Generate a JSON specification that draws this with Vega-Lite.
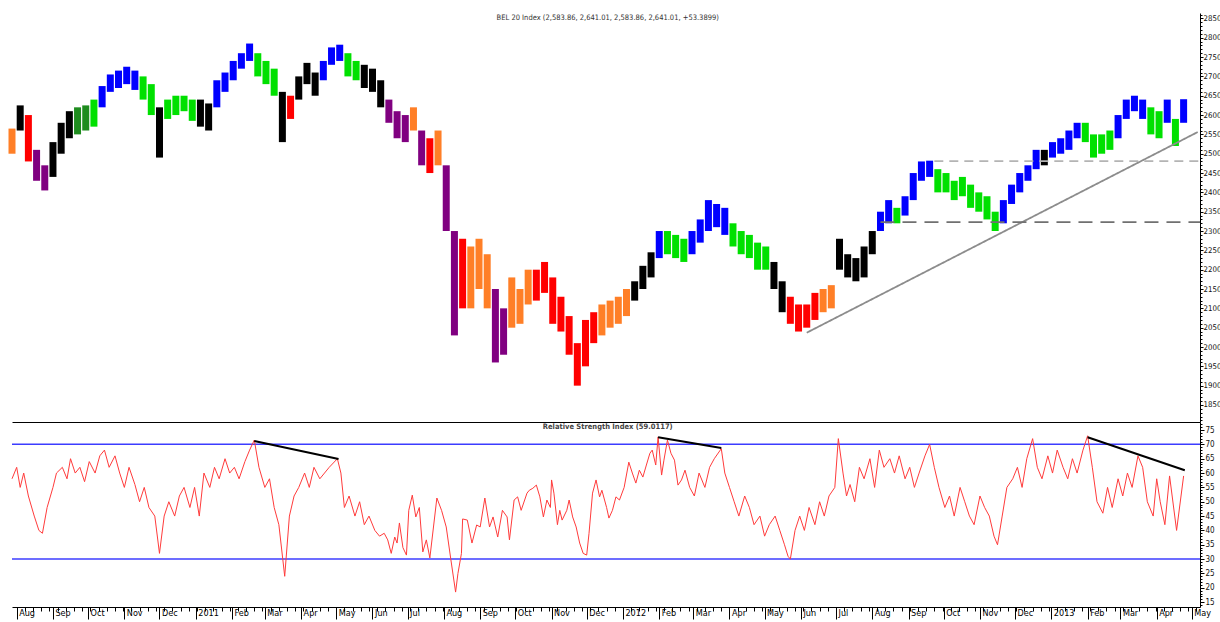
{
  "$schema": "https://vega.github.io/schema/vega-lite/v6.json",
  "autosize": {"type": "pad"},
  "padding": {"left": 8, "top": 13, "right": 0, "bottom": 0},
  "background": "white",
  "spacing": 0,
  "config": {
    "view": {"stroke": null},
    "font": "Liberation Sans Narrow, DejaVu Sans Condensed, Liberation Sans, sans-serif",
    "axis": {"labelFont": "Liberation Sans Narrow, DejaVu Sans Condensed, Liberation Sans, sans-serif", "labelFontSize": 8, "labelColor": "#111", "domainColor": "#000", "tickColor": "#000", "grid": false, "title": null}
  },
  "datasets": {
    "price": [
      {"date": "2010-07-28", "low": 2500, "high": 2565, "state": "orange"},
      {"date": "2010-08-04", "low": 2560, "high": 2625, "state": "black"},
      {"date": "2010-08-11", "low": 2480, "high": 2600, "state": "red"},
      {"date": "2010-08-18", "low": 2430, "high": 2510, "state": "purple"},
      {"date": "2010-08-25", "low": 2405, "high": 2470, "state": "purple"},
      {"date": "2010-09-01", "low": 2440, "high": 2530, "state": "black"},
      {"date": "2010-09-08", "low": 2500, "high": 2580, "state": "black"},
      {"date": "2010-09-15", "low": 2540, "high": 2610, "state": "black"},
      {"date": "2010-09-22", "low": 2550, "high": 2620, "state": "darkgreen"},
      {"date": "2010-09-29", "low": 2560, "high": 2625, "state": "darkgreen"},
      {"date": "2010-10-06", "low": 2570, "high": 2640, "state": "green"},
      {"date": "2010-10-13", "low": 2620, "high": 2675, "state": "blue"},
      {"date": "2010-10-20", "low": 2660, "high": 2705, "state": "blue"},
      {"date": "2010-10-27", "low": 2670, "high": 2715, "state": "blue"},
      {"date": "2010-11-03", "low": 2680, "high": 2725, "state": "blue"},
      {"date": "2010-11-10", "low": 2665, "high": 2715, "state": "blue"},
      {"date": "2010-11-17", "low": 2640, "high": 2700, "state": "green"},
      {"date": "2010-11-24", "low": 2600, "high": 2680, "state": "green"},
      {"date": "2010-12-01", "low": 2490, "high": 2620, "state": "black"},
      {"date": "2010-12-08", "low": 2590, "high": 2640, "state": "green"},
      {"date": "2010-12-15", "low": 2600, "high": 2650, "state": "green"},
      {"date": "2010-12-22", "low": 2610, "high": 2650, "state": "green"},
      {"date": "2010-12-29", "low": 2585, "high": 2640, "state": "green"},
      {"date": "2011-01-05", "low": 2570, "high": 2640, "state": "black"},
      {"date": "2011-01-12", "low": 2560, "high": 2630, "state": "black"},
      {"date": "2011-01-19", "low": 2620, "high": 2690, "state": "blue"},
      {"date": "2011-01-26", "low": 2660, "high": 2710, "state": "blue"},
      {"date": "2011-02-02", "low": 2690, "high": 2740, "state": "blue"},
      {"date": "2011-02-09", "low": 2720, "high": 2760, "state": "blue"},
      {"date": "2011-02-16", "low": 2740, "high": 2785, "state": "blue"},
      {"date": "2011-02-23", "low": 2700, "high": 2760, "state": "green"},
      {"date": "2011-03-02", "low": 2680, "high": 2740, "state": "green"},
      {"date": "2011-03-09", "low": 2650, "high": 2720, "state": "green"},
      {"date": "2011-03-16", "low": 2530, "high": 2660, "state": "black"},
      {"date": "2011-03-23", "low": 2590, "high": 2650, "state": "red"},
      {"date": "2011-03-30", "low": 2640, "high": 2700, "state": "black"},
      {"date": "2011-04-06", "low": 2680, "high": 2735, "state": "black"},
      {"date": "2011-04-13", "low": 2650, "high": 2710, "state": "black"},
      {"date": "2011-04-20", "low": 2690, "high": 2740, "state": "blue"},
      {"date": "2011-04-27", "low": 2730, "high": 2775, "state": "blue"},
      {"date": "2011-05-04", "low": 2740, "high": 2782, "state": "blue"},
      {"date": "2011-05-11", "low": 2700, "high": 2760, "state": "green"},
      {"date": "2011-05-18", "low": 2690, "high": 2740, "state": "green"},
      {"date": "2011-05-25", "low": 2670, "high": 2730, "state": "black"},
      {"date": "2011-06-01", "low": 2660, "high": 2720, "state": "black"},
      {"date": "2011-06-08", "low": 2620, "high": 2690, "state": "black"},
      {"date": "2011-06-15", "low": 2580, "high": 2640, "state": "purple"},
      {"date": "2011-06-22", "low": 2540, "high": 2610, "state": "purple"},
      {"date": "2011-06-29", "low": 2530, "high": 2600, "state": "purple"},
      {"date": "2011-07-06", "low": 2560, "high": 2620, "state": "orange"},
      {"date": "2011-07-13", "low": 2470, "high": 2560, "state": "purple"},
      {"date": "2011-07-20", "low": 2450, "high": 2540, "state": "red"},
      {"date": "2011-07-27", "low": 2470, "high": 2560, "state": "orange"},
      {"date": "2011-08-03", "low": 2300, "high": 2470, "state": "purple"},
      {"date": "2011-08-10", "low": 2030, "high": 2300, "state": "purple"},
      {"date": "2011-08-17", "low": 2100, "high": 2280, "state": "red"},
      {"date": "2011-08-24", "low": 2100, "high": 2260, "state": "orange"},
      {"date": "2011-08-31", "low": 2150, "high": 2280, "state": "orange"},
      {"date": "2011-09-07", "low": 2100, "high": 2240, "state": "orange"},
      {"date": "2011-09-14", "low": 1960, "high": 2150, "state": "purple"},
      {"date": "2011-09-21", "low": 1980, "high": 2100, "state": "purple"},
      {"date": "2011-09-28", "low": 2050, "high": 2180, "state": "orange"},
      {"date": "2011-10-05", "low": 2060, "high": 2150, "state": "orange"},
      {"date": "2011-10-12", "low": 2110, "high": 2200, "state": "orange"},
      {"date": "2011-10-19", "low": 2120, "high": 2200, "state": "red"},
      {"date": "2011-10-26", "low": 2140, "high": 2220, "state": "red"},
      {"date": "2011-11-02", "low": 2060, "high": 2180, "state": "red"},
      {"date": "2011-11-09", "low": 2040, "high": 2130, "state": "red"},
      {"date": "2011-11-16", "low": 1980, "high": 2080, "state": "red"},
      {"date": "2011-11-23", "low": 1900, "high": 2010, "state": "red"},
      {"date": "2011-11-30", "low": 1950, "high": 2070, "state": "red"},
      {"date": "2011-12-07", "low": 2010, "high": 2090, "state": "red"},
      {"date": "2011-12-14", "low": 2030, "high": 2110, "state": "orange"},
      {"date": "2011-12-21", "low": 2050, "high": 2120, "state": "orange"},
      {"date": "2011-12-28", "low": 2060, "high": 2130, "state": "orange"},
      {"date": "2012-01-04", "low": 2080, "high": 2150, "state": "orange"},
      {"date": "2012-01-11", "low": 2120, "high": 2170, "state": "black"},
      {"date": "2012-01-18", "low": 2150, "high": 2210, "state": "black"},
      {"date": "2012-01-25", "low": 2180, "high": 2245, "state": "black"},
      {"date": "2012-02-01", "low": 2230, "high": 2300, "state": "blue"},
      {"date": "2012-02-08", "low": 2240, "high": 2300, "state": "green"},
      {"date": "2012-02-15", "low": 2230, "high": 2290, "state": "green"},
      {"date": "2012-02-22", "low": 2220, "high": 2280, "state": "green"},
      {"date": "2012-02-29", "low": 2240, "high": 2300, "state": "blue"},
      {"date": "2012-03-07", "low": 2270, "high": 2330, "state": "blue"},
      {"date": "2012-03-14", "low": 2300, "high": 2380, "state": "blue"},
      {"date": "2012-03-21", "low": 2310, "high": 2370, "state": "blue"},
      {"date": "2012-03-28", "low": 2290, "high": 2360, "state": "blue"},
      {"date": "2012-04-04", "low": 2260, "high": 2320, "state": "green"},
      {"date": "2012-04-11", "low": 2240, "high": 2300, "state": "green"},
      {"date": "2012-04-18", "low": 2230, "high": 2290, "state": "green"},
      {"date": "2012-04-25", "low": 2200, "high": 2270, "state": "green"},
      {"date": "2012-05-02", "low": 2200, "high": 2260, "state": "green"},
      {"date": "2012-05-09", "low": 2150, "high": 2220, "state": "black"},
      {"date": "2012-05-16", "low": 2090, "high": 2170, "state": "black"},
      {"date": "2012-05-23", "low": 2060, "high": 2130, "state": "red"},
      {"date": "2012-05-30", "low": 2040, "high": 2110, "state": "red"},
      {"date": "2012-06-06", "low": 2050, "high": 2110, "state": "red"},
      {"date": "2012-06-13", "low": 2070, "high": 2140, "state": "red"},
      {"date": "2012-06-20", "low": 2090, "high": 2150, "state": "orange"},
      {"date": "2012-06-27", "low": 2100, "high": 2160, "state": "orange"},
      {"date": "2012-07-04", "low": 2200, "high": 2280, "state": "black"},
      {"date": "2012-07-11", "low": 2180, "high": 2240, "state": "black"},
      {"date": "2012-07-18", "low": 2170, "high": 2230, "state": "black"},
      {"date": "2012-07-25", "low": 2180, "high": 2260, "state": "black"},
      {"date": "2012-08-01", "low": 2240, "high": 2300, "state": "black"},
      {"date": "2012-08-08", "low": 2300, "high": 2350, "state": "blue"},
      {"date": "2012-08-15", "low": 2320, "high": 2380, "state": "blue"},
      {"date": "2012-08-22", "low": 2320, "high": 2360, "state": "green"},
      {"date": "2012-08-29", "low": 2340, "high": 2390, "state": "blue"},
      {"date": "2012-09-05", "low": 2380, "high": 2450, "state": "blue"},
      {"date": "2012-09-12", "low": 2430, "high": 2480, "state": "blue"},
      {"date": "2012-09-19", "low": 2440, "high": 2482, "state": "blue"},
      {"date": "2012-09-26", "low": 2400, "high": 2460, "state": "green"},
      {"date": "2012-10-03", "low": 2400, "high": 2450, "state": "green"},
      {"date": "2012-10-10", "low": 2380, "high": 2430, "state": "green"},
      {"date": "2012-10-17", "low": 2390, "high": 2440, "state": "green"},
      {"date": "2012-10-24", "low": 2360, "high": 2420, "state": "green"},
      {"date": "2012-10-31", "low": 2350, "high": 2400, "state": "green"},
      {"date": "2012-11-07", "low": 2330, "high": 2390, "state": "green"},
      {"date": "2012-11-14", "low": 2300, "high": 2350, "state": "green"},
      {"date": "2012-11-21", "low": 2320, "high": 2380, "state": "blue"},
      {"date": "2012-11-28", "low": 2370, "high": 2420, "state": "blue"},
      {"date": "2012-12-05", "low": 2400, "high": 2450, "state": "blue"},
      {"date": "2012-12-12", "low": 2430, "high": 2470, "state": "blue"},
      {"date": "2012-12-19", "low": 2460, "high": 2510, "state": "blue"},
      {"date": "2012-12-26", "low": 2470, "high": 2510, "state": "black"},
      {"date": "2013-01-02", "low": 2490, "high": 2530, "state": "blue"},
      {"date": "2013-01-09", "low": 2500, "high": 2540, "state": "blue"},
      {"date": "2013-01-16", "low": 2510, "high": 2560, "state": "blue"},
      {"date": "2013-01-23", "low": 2540, "high": 2580, "state": "blue"},
      {"date": "2013-01-30", "low": 2530, "high": 2580, "state": "green"},
      {"date": "2013-02-06", "low": 2490, "high": 2550, "state": "green"},
      {"date": "2013-02-13", "low": 2500, "high": 2550, "state": "green"},
      {"date": "2013-02-20", "low": 2510, "high": 2560, "state": "green"},
      {"date": "2013-02-27", "low": 2540, "high": 2600, "state": "blue"},
      {"date": "2013-03-06", "low": 2590, "high": 2640, "state": "blue"},
      {"date": "2013-03-13", "low": 2610, "high": 2650, "state": "blue"},
      {"date": "2013-03-20", "low": 2590, "high": 2640, "state": "blue"},
      {"date": "2013-03-27", "low": 2550, "high": 2620, "state": "green"},
      {"date": "2013-04-03", "low": 2540, "high": 2610, "state": "green"},
      {"date": "2013-04-10", "low": 2580, "high": 2640, "state": "blue"},
      {"date": "2013-04-17", "low": 2520, "high": 2590, "state": "green"},
      {"date": "2013-04-24", "low": 2580, "high": 2641, "state": "blue"}
    ],
    "rsi": [
      {"date": "2010-07-28", "rsi": 58}, {"date": "2010-08-01", "rsi": 62}, {"date": "2010-08-04", "rsi": 55},
      {"date": "2010-08-07", "rsi": 60}, {"date": "2010-08-11", "rsi": 52}, {"date": "2010-08-16", "rsi": 45},
      {"date": "2010-08-20", "rsi": 40}, {"date": "2010-08-23", "rsi": 39}, {"date": "2010-08-27", "rsi": 48},
      {"date": "2010-09-01", "rsi": 55}, {"date": "2010-09-04", "rsi": 60}, {"date": "2010-09-09", "rsi": 62},
      {"date": "2010-09-13", "rsi": 58}, {"date": "2010-09-16", "rsi": 65}, {"date": "2010-09-20", "rsi": 60},
      {"date": "2010-09-24", "rsi": 62}, {"date": "2010-09-28", "rsi": 57}, {"date": "2010-10-02", "rsi": 64},
      {"date": "2010-10-07", "rsi": 60}, {"date": "2010-10-11", "rsi": 66}, {"date": "2010-10-15", "rsi": 68},
      {"date": "2010-10-19", "rsi": 62}, {"date": "2010-10-24", "rsi": 66}, {"date": "2010-10-28", "rsi": 60},
      {"date": "2010-11-01", "rsi": 55}, {"date": "2010-11-05", "rsi": 62}, {"date": "2010-11-10", "rsi": 56},
      {"date": "2010-11-14", "rsi": 50}, {"date": "2010-11-18", "rsi": 55}, {"date": "2010-11-22", "rsi": 48},
      {"date": "2010-11-27", "rsi": 45}, {"date": "2010-12-01", "rsi": 32}, {"date": "2010-12-05", "rsi": 45},
      {"date": "2010-12-09", "rsi": 50}, {"date": "2010-12-14", "rsi": 45}, {"date": "2010-12-18", "rsi": 52},
      {"date": "2010-12-22", "rsi": 55}, {"date": "2010-12-27", "rsi": 48}, {"date": "2010-12-31", "rsi": 55},
      {"date": "2011-01-04", "rsi": 45}, {"date": "2011-01-08", "rsi": 60}, {"date": "2011-01-13", "rsi": 55},
      {"date": "2011-01-17", "rsi": 62}, {"date": "2011-01-21", "rsi": 58}, {"date": "2011-01-26", "rsi": 65},
      {"date": "2011-01-30", "rsi": 60}, {"date": "2011-02-03", "rsi": 62}, {"date": "2011-02-07", "rsi": 58},
      {"date": "2011-02-12", "rsi": 64}, {"date": "2011-02-16", "rsi": 68}, {"date": "2011-02-20", "rsi": 71.5},
      {"date": "2011-02-24", "rsi": 62}, {"date": "2011-03-01", "rsi": 55}, {"date": "2011-03-05", "rsi": 58},
      {"date": "2011-03-09", "rsi": 48}, {"date": "2011-03-13", "rsi": 42}, {"date": "2011-03-18", "rsi": 24},
      {"date": "2011-03-22", "rsi": 45}, {"date": "2011-03-26", "rsi": 52}, {"date": "2011-03-30", "rsi": 55},
      {"date": "2011-04-04", "rsi": 60}, {"date": "2011-04-08", "rsi": 55}, {"date": "2011-04-12", "rsi": 62},
      {"date": "2011-04-17", "rsi": 58}, {"date": "2011-04-21", "rsi": 60}, {"date": "2011-04-25", "rsi": 62},
      {"date": "2011-05-02", "rsi": 65}, {"date": "2011-05-05", "rsi": 60}, {"date": "2011-05-08", "rsi": 48},
      {"date": "2011-05-12", "rsi": 52}, {"date": "2011-05-17", "rsi": 45}, {"date": "2011-05-21", "rsi": 50},
      {"date": "2011-05-25", "rsi": 42}, {"date": "2011-05-29", "rsi": 45}, {"date": "2011-06-03", "rsi": 40},
      {"date": "2011-06-07", "rsi": 38}, {"date": "2011-06-11", "rsi": 39}, {"date": "2011-06-14", "rsi": 36.7},
      {"date": "2011-06-17", "rsi": 32}, {"date": "2011-06-20", "rsi": 37.7}, {"date": "2011-06-22", "rsi": 35.6},
      {"date": "2011-06-24", "rsi": 42.6}, {"date": "2011-06-27", "rsi": 34}, {"date": "2011-06-30", "rsi": 31.4},
      {"date": "2011-07-02", "rsi": 47}, {"date": "2011-07-05", "rsi": 52.3}, {"date": "2011-07-08", "rsi": 44.7},
      {"date": "2011-07-11", "rsi": 48}, {"date": "2011-07-14", "rsi": 32.5}, {"date": "2011-07-17", "rsi": 36.7},
      {"date": "2011-07-20", "rsi": 30.4}, {"date": "2011-07-26", "rsi": 51.3}, {"date": "2011-07-30", "rsi": 47},
      {"date": "2011-08-03", "rsi": 41.2}, {"date": "2011-08-07", "rsi": 29.7}, {"date": "2011-08-11", "rsi": 18.5},
      {"date": "2011-08-13", "rsi": 25}, {"date": "2011-08-16", "rsi": 32}, {"date": "2011-08-17", "rsi": 44},
      {"date": "2011-08-21", "rsi": 43.6}, {"date": "2011-08-25", "rsi": 35.6}, {"date": "2011-08-29", "rsi": 41.9},
      {"date": "2011-09-01", "rsi": 41.2}, {"date": "2011-09-05", "rsi": 51.3}, {"date": "2011-09-09", "rsi": 41.2},
      {"date": "2011-09-12", "rsi": 44.7}, {"date": "2011-09-16", "rsi": 37.7}, {"date": "2011-09-20", "rsi": 47},
      {"date": "2011-09-24", "rsi": 44.7}, {"date": "2011-09-26", "rsi": 36.7}, {"date": "2011-09-30", "rsi": 50.6},
      {"date": "2011-10-03", "rsi": 51.7}, {"date": "2011-10-06", "rsi": 47}, {"date": "2011-10-11", "rsi": 53},
      {"date": "2011-10-13", "rsi": 54}, {"date": "2011-10-16", "rsi": 54.7}, {"date": "2011-10-19", "rsi": 55.8},
      {"date": "2011-10-22", "rsi": 51.7}, {"date": "2011-10-25", "rsi": 44.7}, {"date": "2011-10-28", "rsi": 50.6},
      {"date": "2011-10-31", "rsi": 48}, {"date": "2011-11-01", "rsi": 57.6}, {"date": "2011-11-03", "rsi": 53},
      {"date": "2011-11-06", "rsi": 42}, {"date": "2011-11-08", "rsi": 47}, {"date": "2011-11-10", "rsi": 43.6},
      {"date": "2011-11-14", "rsi": 47}, {"date": "2011-11-16", "rsi": 50.6}, {"date": "2011-11-19", "rsi": 44.7},
      {"date": "2011-11-22", "rsi": 41.2}, {"date": "2011-11-25", "rsi": 35.6}, {"date": "2011-11-28", "rsi": 32},
      {"date": "2011-12-01", "rsi": 31.4}, {"date": "2011-12-03", "rsi": 39}, {"date": "2011-12-06", "rsi": 53},
      {"date": "2011-12-09", "rsi": 57.6}, {"date": "2011-12-12", "rsi": 51.7}, {"date": "2011-12-14", "rsi": 54},
      {"date": "2011-12-18", "rsi": 48}, {"date": "2011-12-20", "rsi": 44.3}, {"date": "2011-12-23", "rsi": 47},
      {"date": "2011-12-26", "rsi": 51.7}, {"date": "2011-12-29", "rsi": 50.6}, {"date": "2012-01-02", "rsi": 55},
      {"date": "2012-01-06", "rsi": 63.8}, {"date": "2012-01-09", "rsi": 60}, {"date": "2012-01-12", "rsi": 56.5},
      {"date": "2012-01-15", "rsi": 61}, {"date": "2012-01-18", "rsi": 58.6}, {"date": "2012-01-21", "rsi": 62.8},
      {"date": "2012-01-24", "rsi": 66.9}, {"date": "2012-01-26", "rsi": 68}, {"date": "2012-01-29", "rsi": 62.8},
      {"date": "2012-01-31", "rsi": 72.6}, {"date": "2012-02-03", "rsi": 59.3}, {"date": "2012-02-05", "rsi": 64.5},
      {"date": "2012-02-08", "rsi": 71.5}, {"date": "2012-02-11", "rsi": 66.9}, {"date": "2012-02-14", "rsi": 64.5},
      {"date": "2012-02-17", "rsi": 55.8}, {"date": "2012-02-20", "rsi": 57.6}, {"date": "2012-02-23", "rsi": 61},
      {"date": "2012-02-27", "rsi": 55}, {"date": "2012-03-02", "rsi": 52}, {"date": "2012-03-06", "rsi": 60},
      {"date": "2012-03-11", "rsi": 55}, {"date": "2012-03-15", "rsi": 62}, {"date": "2012-03-19", "rsi": 65},
      {"date": "2012-03-25", "rsi": 68.5}, {"date": "2012-03-28", "rsi": 60}, {"date": "2012-04-01", "rsi": 55},
      {"date": "2012-04-05", "rsi": 50}, {"date": "2012-04-09", "rsi": 45}, {"date": "2012-04-14", "rsi": 52},
      {"date": "2012-04-18", "rsi": 48}, {"date": "2012-04-22", "rsi": 42}, {"date": "2012-04-27", "rsi": 45},
      {"date": "2012-05-01", "rsi": 38}, {"date": "2012-05-05", "rsi": 42}, {"date": "2012-05-10", "rsi": 45},
      {"date": "2012-05-14", "rsi": 40}, {"date": "2012-05-18", "rsi": 35}, {"date": "2012-05-21", "rsi": 31},
      {"date": "2012-05-23", "rsi": 30}, {"date": "2012-05-27", "rsi": 40}, {"date": "2012-05-31", "rsi": 45},
      {"date": "2012-06-04", "rsi": 40}, {"date": "2012-06-08", "rsi": 48}, {"date": "2012-06-13", "rsi": 42},
      {"date": "2012-06-17", "rsi": 50}, {"date": "2012-06-21", "rsi": 45}, {"date": "2012-06-25", "rsi": 52},
      {"date": "2012-06-30", "rsi": 55}, {"date": "2012-07-03", "rsi": 72}, {"date": "2012-07-07", "rsi": 60},
      {"date": "2012-07-10", "rsi": 52}, {"date": "2012-07-13", "rsi": 56}, {"date": "2012-07-17", "rsi": 50},
      {"date": "2012-07-21", "rsi": 62}, {"date": "2012-07-25", "rsi": 58}, {"date": "2012-07-30", "rsi": 65},
      {"date": "2012-08-03", "rsi": 55}, {"date": "2012-08-07", "rsi": 68}, {"date": "2012-08-11", "rsi": 62},
      {"date": "2012-08-16", "rsi": 65}, {"date": "2012-08-20", "rsi": 60}, {"date": "2012-08-24", "rsi": 66},
      {"date": "2012-08-29", "rsi": 58}, {"date": "2012-09-02", "rsi": 62}, {"date": "2012-09-06", "rsi": 55},
      {"date": "2012-09-10", "rsi": 60}, {"date": "2012-09-15", "rsi": 66}, {"date": "2012-09-19", "rsi": 70},
      {"date": "2012-09-23", "rsi": 62}, {"date": "2012-09-27", "rsi": 55}, {"date": "2012-10-02", "rsi": 48},
      {"date": "2012-10-06", "rsi": 52}, {"date": "2012-10-10", "rsi": 45}, {"date": "2012-10-15", "rsi": 55},
      {"date": "2012-10-19", "rsi": 50}, {"date": "2012-10-23", "rsi": 45}, {"date": "2012-10-27", "rsi": 42},
      {"date": "2012-11-01", "rsi": 52}, {"date": "2012-11-05", "rsi": 48}, {"date": "2012-11-09", "rsi": 45},
      {"date": "2012-11-13", "rsi": 38}, {"date": "2012-11-16", "rsi": 35}, {"date": "2012-11-20", "rsi": 45},
      {"date": "2012-11-24", "rsi": 55}, {"date": "2012-11-29", "rsi": 58}, {"date": "2012-12-03", "rsi": 62},
      {"date": "2012-12-07", "rsi": 55}, {"date": "2012-12-11", "rsi": 65}, {"date": "2012-12-16", "rsi": 72},
      {"date": "2012-12-20", "rsi": 62}, {"date": "2012-12-24", "rsi": 58}, {"date": "2012-12-29", "rsi": 66},
      {"date": "2013-01-02", "rsi": 60}, {"date": "2013-01-06", "rsi": 68}, {"date": "2013-01-11", "rsi": 62},
      {"date": "2013-01-15", "rsi": 58}, {"date": "2013-01-19", "rsi": 65}, {"date": "2013-01-23", "rsi": 60},
      {"date": "2013-01-28", "rsi": 68}, {"date": "2013-02-01", "rsi": 73}, {"date": "2013-02-05", "rsi": 62},
      {"date": "2013-02-09", "rsi": 50}, {"date": "2013-02-14", "rsi": 46}, {"date": "2013-02-18", "rsi": 55},
      {"date": "2013-02-22", "rsi": 48}, {"date": "2013-02-27", "rsi": 58}, {"date": "2013-03-03", "rsi": 52},
      {"date": "2013-03-07", "rsi": 60}, {"date": "2013-03-11", "rsi": 55}, {"date": "2013-03-16", "rsi": 66},
      {"date": "2013-03-20", "rsi": 62}, {"date": "2013-03-24", "rsi": 50}, {"date": "2013-03-29", "rsi": 45},
      {"date": "2013-04-01", "rsi": 58}, {"date": "2013-04-04", "rsi": 50}, {"date": "2013-04-08", "rsi": 42},
      {"date": "2013-04-12", "rsi": 59}, {"date": "2013-04-18", "rsi": 40}, {"date": "2013-04-24", "rsi": 59}
    ],
    "levels": [
      {"id": "trend", "date": "2012-06-06", "price": 2037},
      {"id": "trend", "date": "2013-05-06", "price": 2556},
      {"id": "res2480", "date": "2012-09-23", "price": 2481},
      {"id": "res2480", "date": "2013-05-08", "price": 2481},
      {"id": "sup2325", "date": "2012-08-08", "price": 2323},
      {"id": "sup2325", "date": "2013-05-08", "price": 2323}
    ],
    "divergence": [
      {"id": "d1", "date": "2011-02-20", "rsi": 71.2},
      {"id": "d1", "date": "2011-05-03", "rsi": 64.9},
      {"id": "d2", "date": "2012-01-31", "rsi": 72.5},
      {"id": "d2", "date": "2012-03-25", "rsi": 68.7},
      {"id": "d3", "date": "2013-02-01", "rsi": 72.5},
      {"id": "d3", "date": "2013-04-25", "rsi": 61}
    ]
  },
  "vconcat": [
    {
      "width": 1188,
      "height": 409,
      "resolve": {"axis": {"y": "independent"}},
      "layer": [
        {
          "data": {"name": "price"},
          "mark": {"type": "rule", "strokeWidth": 7},
          "encoding": {
            "x": {"field": "date", "type": "temporal",
              "scale": {"domain": [{"year": 2010, "month": 7, "date": 28}, {"year": 2013, "month": 5, "date": 8}]},
              "axis": {"labels": false, "ticks": false, "domain": true, "domainColor": "#000"}},
            "y": {"field": "low", "type": "quantitative",
              "scale": {"domain": [1806, 2864], "nice": false, "zero": false},
              "axis": {"orient": "right", "format": "d", "labelOverlap": false, "labelFlush": false, "labelPadding": 0, "tickSize": 3, "labelFontSize": 7.8,
                "values": [1850,1900,1950,2000,2050,2100,2150,2200,2250,2300,2350,2400,2450,2500,2550,2600,2650,2700,2750,2800,2850]}},
            "y2": {"field": "high"},
            "color": {"field": "state", "type": "nominal", "legend": null,
              "scale": {"domain": ["black", "blue", "green", "darkgreen", "red", "orange", "purple"],
                "range": ["#000000", "#0000ff", "#00e000", "#1e8c1e", "#ff0000", "#ff7f27", "#800080"]}}
          }
        },
        {
          "data": {"name": "levels"},
          "mark": {"type": "line", "strokeWidth": 1.8},
          "encoding": {
            "x": {"field": "date", "type": "temporal"},
            "y": {"field": "price", "type": "quantitative",
              "axis": {"orient": "right", "labels": false, "domain": false, "tickSize": 2, "labelOverlap": false,
                "values": [1810,1820,1830,1840,1860,1870,1880,1890,1910,1920,1930,1940,1960,1970,1980,1990,2010,2020,2030,2040,2060,2070,2080,2090,2110,2120,2130,2140,2160,2170,2180,2190,2210,2220,2230,2240,2260,2270,2280,2290,2310,2320,2330,2340,2360,2370,2380,2390,2410,2420,2430,2440,2460,2470,2480,2490,2510,2520,2530,2540,2560,2570,2580,2590,2610,2620,2630,2640,2660,2670,2680,2690,2710,2720,2730,2740,2760,2770,2780,2790,2810,2820,2830,2840,2860]}},
            "detail": {"field": "id"},
            "stroke": {"field": "id", "type": "nominal", "legend": null,
              "scale": {"domain": ["trend", "res2480", "sup2325"], "range": ["#8c8c8c", "#b4b4b4", "#707070"]}},
            "strokeDash": {"field": "id", "type": "nominal", "legend": null,
              "scale": {"domain": ["trend", "res2480", "sup2325"], "range": [[1, 0], [9, 6], [14, 8]]}}
          }
        },
        {
          "data": {"values": [{"label": "BEL 20 Index (2,583.86, 2,641.01, 2,583.86, 2,641.01, +53.3899)"}]},
          "mark": {"type": "text", "fontSize": 7.5, "color": "#333", "baseline": "middle", "align": "center"},
          "encoding": {
            "x": {"datum": {"year": 2011, "month": 12, "date": 19}, "type": "temporal"},
            "y": {"datum": 2850, "axis": null},
            "text": {"field": "label"}
          }
        }
      ]
    },
    {
      "width": 1188,
      "height": 185,
      "resolve": {"axis": {"x": "independent", "y": "independent"}},
      "layer": [
        {
          "data": {"values": [{"level": 70}, {"level": 30}]},
          "mark": {"type": "rule", "color": "#3c3cff", "strokeWidth": 1.5},
          "encoding": {"y": {"field": "level", "type": "quantitative",
            "axis": {"orient": "right", "labels": false, "domain": false, "tickSize": 2, "labelOverlap": false,
              "values": [14, 16, 17, 18, 19, 21, 22, 23, 24, 26, 27, 28, 29, 31, 32, 33, 34, 36, 37, 38, 39, 41, 42, 43, 44, 46, 47, 48, 49, 51, 52, 53, 54, 56, 57, 58, 59, 61, 62, 63, 64, 66, 67, 68, 69, 71, 72, 73, 74, 76, 77]}}}
        },
        {
          "data": {"name": "rsi"},
          "mark": {"type": "line", "color": "#ff3b3b", "strokeWidth": 1},
          "encoding": {
            "x": {"field": "date", "type": "temporal",
              "scale": {"domain": [{"year": 2010, "month": 7, "date": 28}, {"year": 2013, "month": 5, "date": 8}]},
              "axis": {"orient": "bottom", "tickCount": {"interval": "month", "step": 1},
                "labelExpr": "month(datum.value) === 0 ? timeFormat(datum.value, '%Y') : timeFormat(datum.value, '%b')",
                "labelAlign": "left", "labelBaseline": "top", "labelOffset": 2, "labelPadding": -11, "tickSize": 12,
                "labelOverlap": false, "labelFlush": false, "labelColor": "#000", "labelFontSize": 9}},
            "y": {"field": "rsi", "type": "quantitative",
              "scale": {"domain": [13.3, 77.8], "nice": false, "zero": false},
              "axis": {"orient": "right", "labelOverlap": false, "labelFlush": false, "labelPadding": 1, "tickSize": 4,
                "values": [15, 20, 25, 30, 35, 40, 45, 50, 55, 60, 65, 70, 75]}}
          }
        },
        {
          "data": {"name": "divergence"},
          "mark": {"type": "line", "color": "#000", "strokeWidth": 2},
          "encoding": {
            "x": {"field": "date", "type": "temporal",
              "axis": {"orient": "bottom", "tickCount": {"interval": "week", "step": 1}, "labels": false, "domain": false, "tickSize": 4}},
            "y": {"field": "rsi", "type": "quantitative", "axis": null},
            "detail": {"field": "id"}
          }
        },
        {
          "data": {"values": [{"label": "Relative Strength Index (59.0117)"}]},
          "mark": {"type": "text", "fontSize": 7.5, "fontWeight": "bold", "color": "#444", "baseline": "middle", "align": "center"},
          "encoding": {
            "x": {"datum": {"year": 2011, "month": 12, "date": 19}, "type": "temporal", "axis": null},
            "y": {"datum": 76, "axis": null},
            "text": {"field": "label"}
          }
        }
      ]
    }
  ]
}
